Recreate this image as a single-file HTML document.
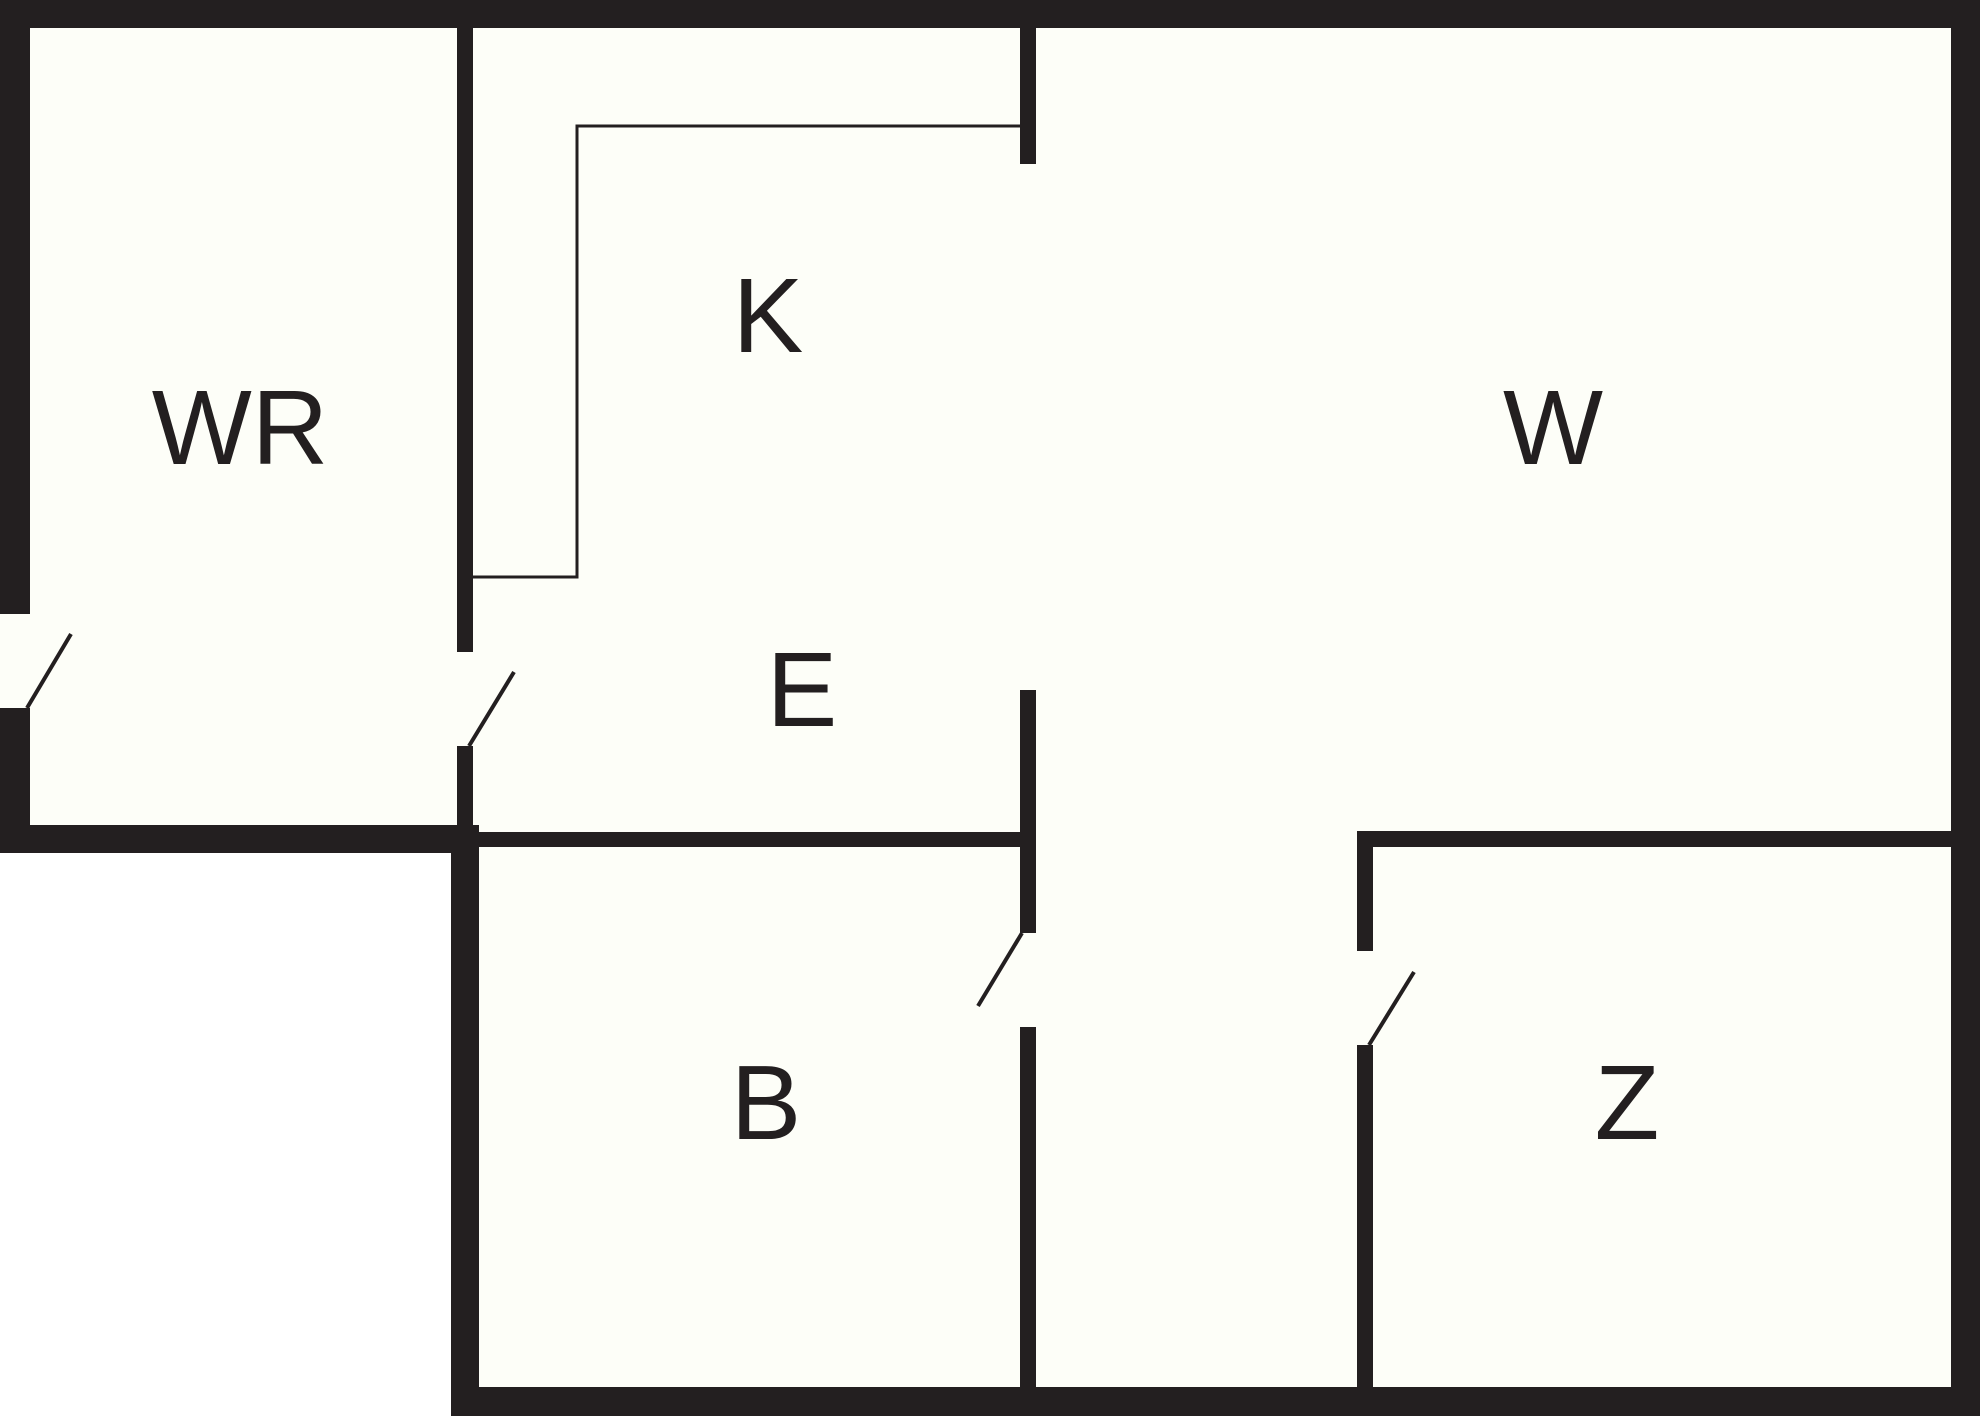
<!DOCTYPE html>
<html><head><style>html,body{margin:0;padding:0;background:#fff}svg{display:block}</style></head>
<body>
<svg width="1980" height="1416" viewBox="0 0 1980 1416" xmlns="http://www.w3.org/2000/svg">
<rect x="0" y="0" width="1980" height="1416" fill="#ffffff"/>
<polygon points="0,0 1980,0 1980,1416 451,1416 451,853 0,853" fill="#fdfef8"/>
<g fill="#231f20">
<rect x="0" y="0" width="1980" height="28"/>
<rect x="1951" y="0" width="29" height="1416"/>
<rect x="451" y="1387" width="1529" height="29"/>
<rect x="0" y="0" width="30" height="614"/>
<rect x="0" y="708" width="30" height="145"/>
<rect x="0" y="825" width="479" height="28"/>
<rect x="457" y="0" width="16" height="652"/>
<rect x="457" y="746" width="16" height="90"/>
<rect x="451" y="832" width="28" height="584"/>
<rect x="473" y="832" width="563" height="15"/>
<rect x="1020" y="0" width="16" height="164"/>
<rect x="1020" y="690" width="16" height="243"/>
<rect x="1020" y="1027" width="16" height="389"/>
<rect x="1357" y="831" width="623" height="16"/>
<rect x="1357" y="831" width="16" height="120"/>
<rect x="1357" y="1045" width="16" height="371"/>
</g>
<g stroke="#231f20" fill="none">
<polyline points="1020,126 577,126 577,577 473,577" stroke-width="3"/>
<line x1="27" y1="708" x2="71" y2="634" stroke-width="4"/>
<line x1="469" y1="746" x2="514" y2="672" stroke-width="4"/>
<line x1="1022" y1="933" x2="978" y2="1006" stroke-width="4"/>
<line x1="1369" y1="1045" x2="1414" y2="972" stroke-width="4"/>
</g>
<g font-family="Liberation Sans, sans-serif" font-size="106" fill="#231f20" text-anchor="middle">
<text x="240" y="464">WR</text>
<text x="768" y="352">K</text>
<text x="1553" y="464">W</text>
<text x="802" y="726">E</text>
<text x="766" y="1139">B</text>
<text x="1627" y="1139">Z</text>
</g>
</svg>
</body></html>
